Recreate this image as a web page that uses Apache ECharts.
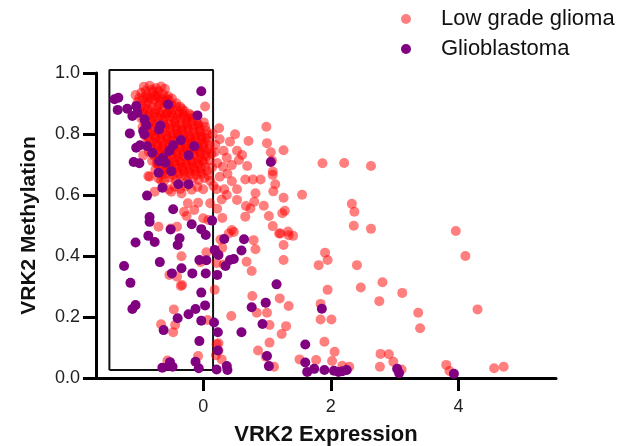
<!DOCTYPE html>
<html>
<head>
<meta charset="utf-8">
<title>VRK2 expression vs methylation</title>
<script src="https://cdn.jsdelivr.net/npm/echarts@6/dist/echarts.min.js"></script>
<style>
    html, body { margin: 0; padding: 0; background: #fff; }
    #main { width: 625px; height: 446px; }
</style>
</head>
<body>
<div id="main"></div>
<script>
// series names, tick positions and the highlight box (data units)
var seriesNames = ['Low grade glioma', 'Glioblastoma'];
var xTicks = [0, 2, 4];
var boxCorners = [[-1.47, 0.026], [-1.47, 1.01], [0.155, 1.01], [0.155, 0.026], [-1.47, 0.026]];

// low grade glioma: the dense cluster top left
var lowGradeCluster = [
    [-0.93,0.955],[-0.84,0.958],[-0.74,0.951],[-0.66,0.956],[-0.60,0.948],
    [-1.06,0.928],[-0.97,0.935],[-0.88,0.929],[-0.79,0.938],[-0.71,0.926],[-0.63,0.931],[-0.55,0.924],[-0.49,0.916],
    [-1.03,0.905],[-0.95,0.911],[-0.86,0.903],[-0.77,0.912],[-0.68,0.899],[-0.59,0.907],[-0.50,0.896],[-0.42,0.901],[-0.36,0.889],
    [-1.01,0.878],[-0.92,0.884],[-0.83,0.872],[-0.74,0.881],[-0.65,0.875],[-0.56,0.869],[-0.47,0.879],[-0.38,0.871],[-0.30,0.876],[-0.22,0.866],
    [-0.97,0.851],[-0.89,0.858],[-0.80,0.846],[-0.71,0.853],[-0.62,0.848],[-0.53,0.856],[-0.44,0.844],[-0.35,0.851],[-0.26,0.845],[-0.17,0.853],[-0.10,0.842],
    [-0.95,0.823],[-0.86,0.829],[-0.77,0.818],[-0.68,0.826],[-0.59,0.820],[-0.50,0.831],[-0.41,0.817],[-0.32,0.824],[-0.23,0.819],[-0.14,0.828],[-0.05,0.815],[0.03,0.824],
    [-0.92,0.795],[-0.83,0.802],[-0.74,0.790],[-0.65,0.798],[-0.56,0.788],[-0.47,0.801],[-0.38,0.792],[-0.29,0.799],[-0.20,0.787],[-0.11,0.796],[-0.02,0.790],[0.07,0.798],
    [-0.89,0.768],[-0.80,0.774],[-0.71,0.762],[-0.62,0.771],[-0.53,0.765],[-0.44,0.776],[-0.35,0.761],[-0.26,0.769],[-0.17,0.774],[-0.08,0.763],[0.01,0.771],[0.10,0.764],
    [-0.85,0.741],[-0.76,0.735],[-0.67,0.745],[-0.58,0.738],[-0.49,0.746],[-0.40,0.733],[-0.31,0.742],[-0.22,0.736],[-0.13,0.747],[-0.04,0.738],[0.05,0.743],[0.13,0.735],
    [-0.80,0.712],[-0.71,0.706],[-0.62,0.716],[-0.53,0.709],[-0.44,0.715],[-0.35,0.704],[-0.26,0.713],[-0.17,0.707],[-0.08,0.717],[0.01,0.708],[0.10,0.714],
    [-0.75,0.683],[-0.66,0.677],[-0.57,0.686],[-0.48,0.679],[-0.39,0.688],[-0.30,0.676],[-0.21,0.684],[-0.12,0.678],[-0.03,0.687],[0.06,0.679],
    [-0.70,0.654],[-0.61,0.648],[-0.52,0.657],[-0.43,0.649],[-0.34,0.658],[-0.25,0.646],[-0.16,0.655],[-0.07,0.649],[0.02,0.656],[0.11,0.647],
    [-0.63,0.625],[-0.54,0.618],[-0.45,0.627],[-0.36,0.620],[-0.27,0.629],[-0.18,0.617],[-0.09,0.626],[0.00,0.619],
    [-0.90,0.942],[-0.80,0.946],[-0.70,0.940],
    [-1.00,0.918],[-0.91,0.921],[-0.82,0.917],[-0.73,0.922],[-0.64,0.915],[-0.54,0.911],
    [-0.98,0.892],[-0.89,0.897],[-0.80,0.889],[-0.71,0.893],[-0.61,0.887],[-0.52,0.884],[-0.43,0.890],[-0.33,0.882],
    [-0.94,0.866],[-0.85,0.862],[-0.76,0.868],[-0.67,0.861],[-0.57,0.866],[-0.48,0.859],[-0.39,0.864],[-0.29,0.858],[-0.19,0.861],
    [-0.91,0.837],[-0.82,0.841],[-0.72,0.835],[-0.63,0.839],[-0.54,0.834],[-0.45,0.838],[-0.36,0.833],[-0.27,0.836],[-0.18,0.840],[-0.08,0.832],[0.01,0.838],
    [-0.88,0.809],[-0.79,0.812],[-0.70,0.806],[-0.60,0.810],[-0.51,0.805],[-0.42,0.811],[-0.33,0.807],[-0.24,0.812],[-0.15,0.806],[-0.06,0.809],[0.05,0.810],
    [-0.84,0.782],[-0.75,0.786],[-0.66,0.779],[-0.57,0.784],[-0.48,0.778],[-0.39,0.785],[-0.30,0.780],[-0.21,0.783],[-0.12,0.777],[-0.03,0.782],[0.07,0.779],
    [-0.81,0.754],[-0.72,0.757],[-0.63,0.751],[-0.54,0.756],[-0.45,0.750],[-0.36,0.755],[-0.27,0.752],[-0.18,0.757],[-0.09,0.751],[0.00,0.755],[0.09,0.750],
    [-0.76,0.726],[-0.67,0.729],[-0.58,0.723],[-0.49,0.728],[-0.40,0.722],[-0.31,0.727],[-0.22,0.724],[-0.13,0.729],[-0.04,0.722],[0.05,0.727],
    [-0.70,0.697],[-0.61,0.700],[-0.52,0.694],[-0.43,0.699],[-0.34,0.693],[-0.25,0.698],[-0.16,0.695],[-0.07,0.700],[0.03,0.693],
    [-0.65,0.668],[-0.56,0.671],[-0.47,0.665],[-0.38,0.670],[-0.29,0.664],[-0.20,0.669],[-0.11,0.666],[-0.02,0.670],[0.08,0.664],
    [-0.94,0.730],[-0.84,0.660],[0.03,0.890],
    [-0.87,0.916],[-0.76,0.925],[-0.67,0.908],[-0.58,0.917],[-0.96,0.873],[-0.87,0.881],[-0.77,0.857],[-0.69,0.869],
    [-0.60,0.857],[-0.50,0.868],[-0.41,0.853],[-0.32,0.866],[-0.24,0.852],[-0.90,0.827],[-0.80,0.832],[-0.70,0.817],
    [-0.61,0.829],[-0.52,0.818],[-0.43,0.826],[-0.34,0.815],[-0.25,0.829],[-0.16,0.818],[-0.07,0.826],[-0.86,0.789],
    [-0.77,0.797],[-0.68,0.785],[-0.58,0.796],[-0.49,0.790],[-0.40,0.799],[-0.31,0.788],[-0.22,0.795],[-0.13,0.788],
    [-0.04,0.797],[0.04,0.787],[-0.82,0.761],[-0.73,0.769],[-0.64,0.760],[-0.55,0.768],[-0.46,0.759],[-0.37,0.768],
    [-0.28,0.760],[-0.19,0.766],[-0.10,0.758],[-0.01,0.764],[-0.78,0.733],[-0.69,0.739],[-0.60,0.731],[-0.51,0.737],
    [-0.42,0.741],[-0.33,0.733],[-0.24,0.743],[-0.15,0.734],[-0.06,0.745],[0.03,0.734],[-0.73,0.703],[-0.64,0.711],
    [-0.55,0.702],[-0.46,0.708],[-0.37,0.710],[-0.28,0.703],[-0.19,0.712],[-0.10,0.704],[-0.01,0.712],[-0.62,0.678],
    [-0.50,0.686],[-0.41,0.676],[-0.32,0.686],[-0.23,0.676],[-0.14,0.688],[-0.05,0.677]
];

// low grade glioma: the scattered points
var lowGradeSpread = [
    [0.25,0.819],[0.99,0.824],[0.50,0.799],[0.71,0.777],[0.42,0.775],[1.00,0.770],[0.26,0.783],[0.19,0.764],
    [0.53,0.745],[0.61,0.731],[1.06,0.740],[1.26,0.747],[1.87,0.704],[2.21,0.705],[2.63,0.695],
    [1.08,0.713],[0.56,0.715],[0.69,0.695],[0.45,0.698],[0.31,0.693],[1.09,0.677],[1.09,0.666],[1.13,0.635],
    [0.90,0.651],[0.78,0.651],[0.66,0.651],[0.45,0.645],[1.10,0.612],[0.82,0.606],[0.53,0.619],[0.33,0.619],[0.21,0.619],
    [1.26,0.591],[1.55,0.601],[0.53,0.584],[0.80,0.578],[0.67,0.564],[0.74,0.556],[0.95,0.565],[0.66,0.529],
    [1.03,0.531],[1.24,0.540],[1.28,0.548],[2.33,0.571],[2.37,0.545],[2.36,0.499],[2.63,0.489],
    [1.09,0.498],[1.19,0.474],[1.33,0.480],[1.41,0.466],[0.45,0.485],[0.79,0.452],[0.82,0.422],
    [0.15,0.800],[0.18,0.740],[0.14,0.690],[0.22,0.705],[0.26,0.660],[0.16,0.630],[0.32,0.745],[0.37,0.722],[0.38,0.670],
    [0.29,0.585],[0.37,0.600],[0.22,0.555],[0.30,0.525],
    [-0.86,0.662],[-0.66,0.649],[-0.76,0.611],[-0.50,0.611],[-0.34,0.605],[-0.24,0.573],[-0.08,0.575],[0.11,0.573],
    [-0.30,0.545],[-0.14,0.551],[0.00,0.524],[0.08,0.518],[-0.70,0.496],[-0.51,0.490],[-0.41,0.496],[-0.26,0.531],
    [0.05,0.412],[-0.04,0.380],[-0.34,0.399],[-0.53,0.338],[-0.41,0.332],[-0.33,0.305],
    [0.27,0.454],[0.30,0.427],[0.21,0.410],[0.21,0.377],[0.32,0.372],[0.40,0.474],[0.48,0.479],
    [-0.35,0.302],[0.18,0.289],[-0.46,0.225],[-0.44,0.174],[-0.66,0.176],[-0.47,0.150],[0.07,0.190],[0.44,0.203],
    [0.21,0.111],[0.24,0.090],[0.29,0.061],[-0.08,0.072],[-0.56,0.057],[0.20,0.075],[0.24,0.114],
    [1.26,0.436],[1.21,0.474],[1.34,0.468],[1.26,0.387],[1.81,0.370],[1.91,0.411],[1.95,0.387],[2.41,0.370],
    [0.68,0.381],[0.76,0.351],[1.95,0.289],[2.47,0.297],[0.77,0.269],[1.20,0.261],[1.34,0.236],[1.84,0.243],
    [1.84,0.192],[2.01,0.192],[0.98,0.247],[0.84,0.214],[1.00,0.214],[1.04,0.174],[1.30,0.170],[1.23,0.144],
    [1.04,0.116],[1.90,0.119],[2.06,0.086],[0.86,0.090],[0.98,0.070],[1.51,0.061],[1.77,0.059],[2.02,0.056],
    [1.11,0.037],[2.18,0.040],[2.29,0.037],
    [3.96,0.482],[4.11,0.400],[2.81,0.314],[3.12,0.279],[2.76,0.252],[3.37,0.214],[4.30,0.225],[3.40,0.163],
    [2.78,0.079],[2.91,0.078],[2.98,0.053],[2.77,0.037],[3.11,0.028],[3.81,0.043],[3.86,0.023],[4.56,0.032],[4.71,0.037]
];

// glioblastoma
var glioblastoma = [
    [-1.39,0.914],[-1.33,0.919],[-1.34,0.879],[-1.19,0.883],[-1.11,0.859],[-1.05,0.892],[-1.03,0.870],[-1.15,0.802],
    [-1.05,0.755],[-0.99,0.763],[-1.09,0.708],[-1.00,0.704],[-0.92,0.848],[-0.89,0.828],[-0.94,0.810],[-0.92,0.799],
    [-0.88,0.760],[-0.80,0.739],[-0.67,0.828],[-0.69,0.815],[-0.55,0.897],[-0.03,0.940],[-0.09,0.861],[-0.35,0.780],
    [-0.47,0.763],[-0.53,0.744],[-0.63,0.722],[-0.69,0.711],[-0.59,0.706],[-0.70,0.673],[-0.50,0.678],[-0.64,0.624],
    [-0.39,0.635],[-0.23,0.635],[-0.23,0.730],[-0.14,0.760],[-0.88,0.598],[-0.47,0.553],[-0.84,0.528],[-0.84,0.512],
    [-0.51,0.487],[-0.86,0.466],[-0.76,0.446],[-1.06,0.444],[-0.37,0.458],[-0.40,0.436],[-0.18,0.504],[-0.03,0.488],
    [0.04,0.469],[0.14,0.516],[-1.24,0.367],[-0.68,0.380],[-0.49,0.343],[-0.34,0.360],[-0.17,0.343],[-0.06,0.387],
    [0.05,0.386],[0.04,0.343],[0.22,0.338],[-1.14,0.312],[-1.11,0.226],[-1.06,0.239],[-0.03,0.280],[0.03,0.238],
    [-0.12,0.226],[-0.23,0.209],[-0.40,0.196],[-0.03,0.188],[0.17,0.182],[0.23,0.150],[-0.62,0.157],[-0.06,0.121],
    [0.23,0.090],[0.18,0.420],[0.24,0.403],[0.33,0.456],[0.35,0.367],[0.42,0.387],[0.48,0.390],[0.64,0.455],
    [0.60,0.418],[1.15,0.307],[0.98,0.247],[0.76,0.232],[0.93,0.177],[0.60,0.150],[1.06,0.708],
    [1.60,0.110],[1.60,0.051],[1.63,0.020],[1.74,0.030],[1.86,0.227],[1.90,0.026],[2.05,0.024],[2.12,0.020],
    [2.18,0.022],[2.25,0.026],[1.00,0.072],[1.03,0.039],
    [-0.64,0.034],[-0.53,0.040],[-0.48,0.037],[-0.52,0.052],[-0.12,0.053],[-0.07,0.032],[0.21,0.028],
    [0.37,0.039],[0.38,0.026],[3.04,0.030],[3.07,0.016],[3.93,0.014]
];

var myChart = echarts.init(document.getElementById('main'));

var option = {
    animation: false,
    textStyle: { fontFamily: 'Liberation Sans, Arial, sans-serif' },
    legend: {
        data: seriesNames,
        orient: 'vertical',
        left: 396,
        top: 3,
        icon: 'circle',
        itemWidth: 60,
        itemHeight: 10,
        itemGap: 8,
        textStyle: { fontSize: 22, color: '#111', lineHeight: 22 }
    },
    grid: { left: 96, right: 69, top: 73, bottom: 68, outerBoundsMode: 'none' },
    xAxis: {
        type: 'value',
        min: -1.68,
        max: 5.53,
        name: 'VRK2 Expression',
        nameLocation: 'middle',
        nameGap: 46,
        nameTextStyle: { fontSize: 22, fontWeight: 'bold', color: '#111' },
        splitLine: { show: false },
        axisLine: { onZero: false, lineStyle: { color: '#000', width: 3 } },
        axisTick: { customValues: xTicks, length: 13, lineStyle: { color: '#000', width: 3 } },
        axisLabel: { customValues: xTicks, fontSize: 18, color: '#222', margin: 20 }
    },
    yAxis: {
        type: 'value',
        min: 0,
        max: 1,
        interval: 0.2,
        name: 'VRK2 Methylation',
        nameLocation: 'middle',
        nameRotate: 90,
        nameGap: 56,
        nameTextStyle: { fontSize: 21, fontWeight: 'bold', color: '#111' },
        splitLine: { show: false },
        axisLine: { onZero: false, lineStyle: { color: '#000', width: 3 } },
        axisTick: { length: 13, lineStyle: { color: '#000', width: 3 } },
        axisLabel: {
            fontSize: 18, color: '#222', margin: 16,
            formatter: function (v) { return v.toFixed(1); }
        }
    },
    series: [
        {
            name: 'box',
            type: 'line',
            data: boxCorners,
            symbol: 'none',
            clip: false,
            silent: true,
            lineStyle: { color: '#111', width: 2 },
            z: 1
        },
        {
            name: seriesNames[0],
            type: 'scatter',
            data: lowGradeCluster.concat(lowGradeSpread),
            symbolSize: 10,
            itemStyle: { color: '#ff0000', opacity: 0.5 },
            z: 2
        },
        {
            name: seriesNames[1],
            type: 'scatter',
            data: glioblastoma,
            symbolSize: 10,
            itemStyle: { color: '#800080', opacity: 1 },
            z: 3
        }
    ]
};

myChart.setOption(option);
</script>
</body>
</html>
